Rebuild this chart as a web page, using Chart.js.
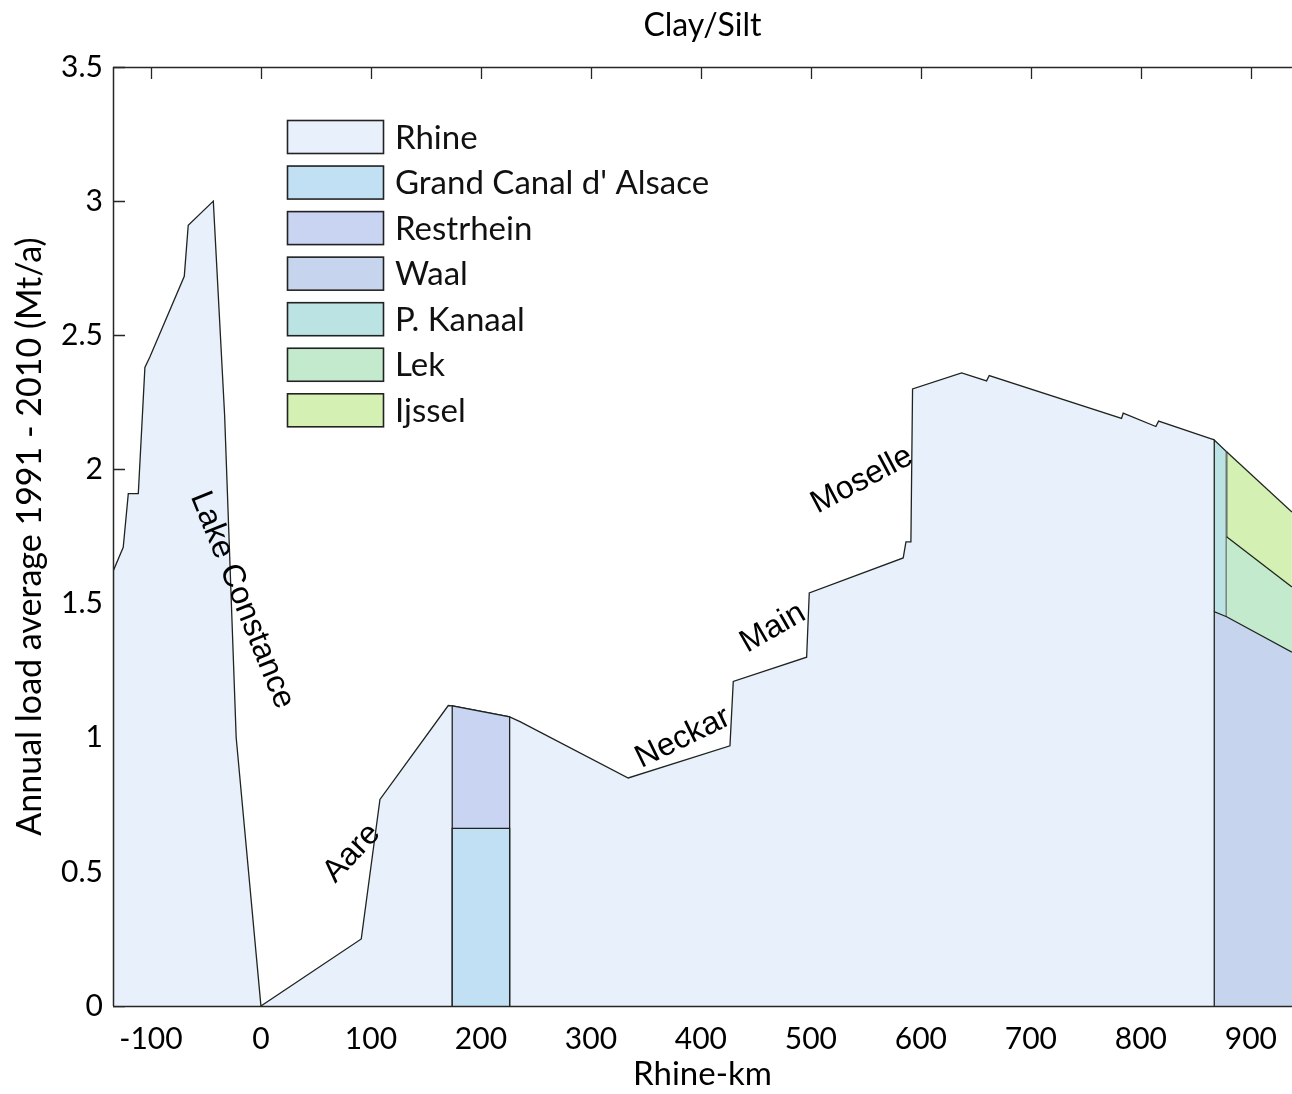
<!DOCTYPE html>
<html><head><meta charset="utf-8">
<script src="https://cdn.jsdelivr.net/npm/chart.js@4/dist/chart.umd.min.js"></script>
<style>html,body{margin:0;padding:0;background:#fff;} #wrap{width:1292px;height:1094px;}</style>
</head><body><div id="wrap"><canvas id="c" width="1292" height="1094"></canvas></div>
<script>
// ---- data ----
const rhineKm   = [-134.5,-125.2,-120.6,-111.5,-105.5,-100.9,-69.7,-66.1,-43.3,-33.0,-22.5,0,91.2,108.2,170.3,173.9,226.1,235.5,333.9,426.4,429.4,496.1,498.5,583.9,586.4,590.9,592.4,637.0,659.7,662.1,782.4,783.9,813.6,816.1,866.7];
const rhineLoad = [1.62,1.71,1.91,1.91,2.38,2.42,2.72,2.91,3.00,2.20,1.00,0,0.25,0.77,1.12,1.119,1.078,1.06,0.85,0.97,1.21,1.30,1.54,1.67,1.73,1.73,2.30,2.36,2.33,2.35,2.19,2.21,2.16,2.18,2.11];
const alsaceKm       = [173.9, 226.1];
const grandCanalLoad = [0.662, 0.662];
const restrheinLoad  = [0.457, 0.416];
const deltaKm     = [866.7, 877.9, 937.3];
const waalLoad    = [1.470, 1.451, 1.319];
const pKanaalLoad = [0.640, 0.615, null];
const lekLoad     = [null, 0.298, 0.243];
const ijsselLoad  = [null, 0.317, 0.279];
const xTickValues = [-100,0,100,200,300,400,500,600,700,800,900];
const yTickValues = [0,0.5,1,1.5,2,2.5,3,3.5];
const seriesNames  = ['Rhine',"Grand Canal d' Alsace",'Restrhein','Waal','P. Kanaal','Lek','Ijssel'];
const seriesColors = ['#e8f0fc','#c1e0f4','#c9d3f2','#c6d4ed','#bce3e3','#c4eace','#d4f0b3'];
const riverNames = ['Lake Constance','Aare','Neckar','Main','Moselle'];
const riverKm    = [-17.3, 82.7, 383.6, 465.5, 546.4];
const riverLoad  = [1.513, 0.570, 0.999, 1.409, 1.960];
const riverAngle = [68, -47, -26, -30, -28];

// ---- build polygons from the arrays ----
const pt = (x, y) => ({x, y});
const rhinePts = rhineKm.map((k, i) => pt(k, rhineLoad[i]));
const gcaPts = [pt(alsaceKm[0], 0), pt(alsaceKm[0], grandCanalLoad[0]), pt(alsaceKm[1], grandCanalLoad[1]), pt(alsaceKm[1], 0)];
const restPts = [pt(alsaceKm[0], 0), pt(alsaceKm[0], grandCanalLoad[0] + restrheinLoad[0]), pt(alsaceKm[1], grandCanalLoad[1] + restrheinLoad[1]), pt(alsaceKm[1], 0)];
const waalPts = [pt(deltaKm[0], 0)].concat(deltaKm.map((k, i) => pt(k, waalLoad[i])));
const pkPts = [pt(deltaKm[0], waalLoad[0]), pt(deltaKm[0], waalLoad[0] + pKanaalLoad[0]), pt(deltaKm[1], waalLoad[1] + pKanaalLoad[1]), pt(deltaKm[1], waalLoad[1])];
const lekPts = [1, 2].map(i => pt(deltaKm[i], waalLoad[i] + lekLoad[i]));
const ijsPts = [pt(deltaKm[1], waalLoad[1])].concat([1, 2].map(i => pt(deltaKm[i], waalLoad[i] + lekLoad[i] + ijsselLoad[i])));

const EDGE = '#1f241f';
function ds(label, data, color, order, extra) {
  return Object.assign({label, data, backgroundColor: color, borderColor: EDGE, borderWidth: 1.3,
    fill: 'origin', pointRadius: 0, tension: 0, order}, extra || {});
}
const vertGrey = {segment: {borderColor: c => (c.p0.parsed.x === c.p1.parsed.x) ? '#6d756d' : EDGE,
                            borderWidth: c => (c.p0.parsed.x === c.p1.parsed.x) ? 2 : 1.3}};

const FONT = 'Lato';
const decor = {
  id: 'decor',
  beforeDatasetsDraw(chart) {
    const {ctx, chartArea: a, scales: {x, y}} = chart;
    ctx.save();
    ctx.strokeStyle = '#262626'; ctx.lineWidth = 1.3;
    ctx.beginPath();
    yTickValues.forEach(v => { const py = Math.round(y.getPixelForValue(v)) + 0.5; ctx.moveTo(a.left, py); ctx.lineTo(a.left + 12, py); });
    xTickValues.forEach(v => { const px = Math.round(x.getPixelForValue(v)) + 0.5; ctx.moveTo(px, a.top); ctx.lineTo(px, a.top + 12); });
    ctx.stroke();
    ctx.restore();
  },
  afterDatasetsDraw(chart) {
    const {ctx, chartArea: a, scales: {x, y}} = chart;
    ctx.save();
    // axis lines
    ctx.strokeStyle = '#262626'; ctx.lineWidth = 1.5;
    ctx.beginPath();
    ctx.moveTo(a.left + 0.5, a.top); ctx.lineTo(a.left + 0.5, a.bottom);
    ctx.moveTo(a.left, a.top + 0.5); ctx.lineTo(a.right, a.top + 0.5);
    ctx.moveTo(a.left, a.bottom + 0.5); ctx.lineTo(a.right, a.bottom + 0.5);
    ctx.stroke();
    // river labels
    ctx.fillStyle = '#000';
    ctx.font = '32px "Liberation Sans", Arial, sans-serif';
    ctx.textAlign = 'center'; ctx.textBaseline = 'middle';
    riverNames.forEach((n, i) => {
      ctx.save();
      ctx.translate(x.getPixelForValue(riverKm[i]), y.getPixelForValue(riverLoad[i]));
      ctx.rotate(riverAngle[i] * Math.PI / 180);
      ctx.fillText(n, 0, 0);
      ctx.restore();
    });
    // legend
    const lx = a.left + 174, ly = a.top + 53, step = 45.55;
    ctx.font = '33px ' + FONT;
    ctx.textAlign = 'left'; ctx.textBaseline = 'middle';
    seriesNames.forEach((n, i) => {
      const top = ly + i * step;
      ctx.fillStyle = seriesColors[i];
      ctx.fillRect(lx, top, 96, 33);
      ctx.strokeStyle = '#222'; ctx.lineWidth = 1.6;
      ctx.strokeRect(lx + 0.5, top + 0.5, 96, 33);
      ctx.fillStyle = '#111';
      ctx.fillText(n, lx + 108, top + 18);
    });
    ctx.restore();
  }
};

Chart.defaults.font.family = FONT;
Chart.defaults.color = '#000';

new Chart(document.getElementById('c'), {
  type: 'line',
  data: {
    datasets: [
      ds('Waal', waalPts, seriesColors[3], 1),
      ds('Lek', lekPts, seriesColors[5], 2),
      ds('Ijssel', ijsPts, seriesColors[6], 3, vertGrey),
      ds('P. Kanaal', pkPts, seriesColors[4], 4),
      ds("Grand Canal d' Alsace", gcaPts, seriesColors[1], 5),
      ds('Restrhein', restPts, seriesColors[2], 6),
      ds('Rhine', rhinePts, seriesColors[0], 7)
    ]
  },
  options: {
    responsive: false,
    animation: false,
    events: [],
    layout: {padding: {left: 0, right: 0, top: 0, bottom: 0}},
    plugins: {
      legend: {display: false},
      tooltip: {enabled: false},
      title: {display: true, text: 'Clay/Silt', fullSize: false, color: '#000',
              font: {family: FONT, size: 32, weight: 'normal'}, padding: {top: 6, bottom: 22.6}}
    },
    scales: {
      x: {
        type: 'linear', position: 'bottom', min: -134.5, max: 937.3,
        grid: {display: false, drawTicks: false},
        border: {display: false},
        afterBuildTicks: s => { s.ticks = xTickValues.map(v => ({value: v})); },
        afterFit: s => { s.height = 88; },
        ticks: {font: {size: 30}, color: '#000', padding: 15, autoSkip: false, maxRotation: 0, callback: v => String(v)},
        title: {display: true, text: 'Rhine-km', font: {size: 33}, color: '#000', padding: {top: 0, bottom: 0}}
      },
      y: {
        type: 'linear', min: 0, max: 3.5,
        grid: {display: false, drawTicks: false},
        border: {display: false},
        afterBuildTicks: s => { s.ticks = yTickValues.map(v => ({value: v})); },
        afterFit: s => { s.width = 113; },
        ticks: {font: {size: 30}, color: '#000', padding: 10, callback: v => String(v)},
        title: {display: true, text: 'Annual load average 1991 - 2010 (Mt/a)', font: {size: 34}, color: '#000', padding: {top: 10, bottom: 0}}
      }
    }
  },
  plugins: [decor]
});
</script>
</body></html>
